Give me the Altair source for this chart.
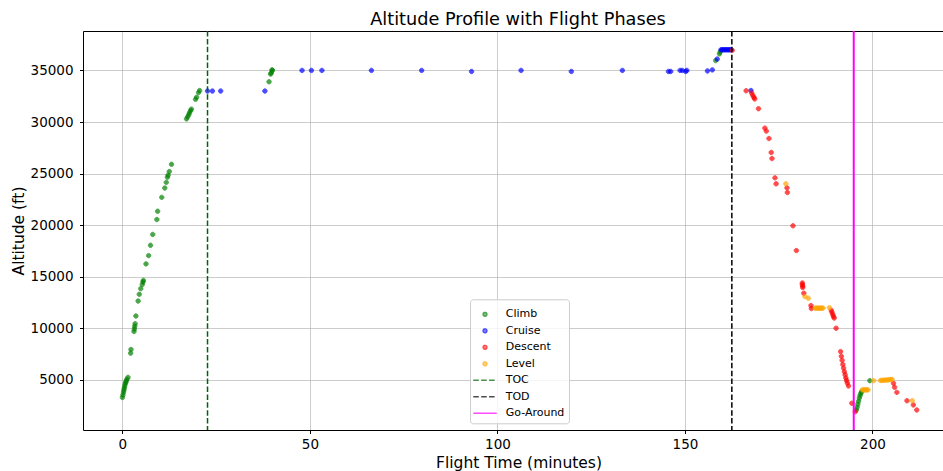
import altair as alt
import pandas as pd

# ---------------- data ----------------
climb_t = [0.0, 0.15, 0.3, 0.4, 0.5, 0.6, 0.75, 0.9, 1.0, 1.2, 1.5,
           2.2, 2.3, 3.1, 3.2, 3.3, 3.4, 3.6, 4.2, 4.5, 4.9, 5.3, 5.5, 5.6,
           6.3, 7.0, 7.5, 8.1, 9.2, 9.4, 10.5, 11.3, 11.7, 12.0, 12.2, 12.5, 13.1,
           17.1, 17.4, 17.7, 17.9, 18.2, 18.4, 19.5, 19.8, 20.3, 20.6,
           39.1, 39.5, 39.7, 39.9, 40.0,
           158.2, 159.2, 159.4,
           195.7, 195.9, 196.1, 196.3, 196.5, 196.7, 196.9, 197.1, 199.3]
climb_alt = [3300, 3550, 3800, 4000, 4200, 4400, 4600, 4750, 4900, 5050, 5250,
             7600, 7950, 9700, 9950, 10200, 10450, 11200, 12650, 13300, 13850, 14250, 14500, 14650,
             16250, 17050, 18050, 19100, 20550, 21350, 22700, 23600, 24150, 24650, 24850, 25200, 25900,
             30300, 30500, 30700, 30900, 31100, 31250, 32200, 32400, 32850, 33050,
             33900, 34650, 34750, 35050, 35000,
             35950, 36600, 36800,
             2100, 2350, 2650, 2950, 3250, 3500, 3700, 3870, 4930]

cruise_t = [22.7, 24.0, 26.2, 38.0,
            47.9, 50.4, 53.2, 66.4, 79.8, 93.1, 106.3, 119.7, 133.3, 145.6, 146.2,
            148.7, 149.3, 150.2, 150.5,
            156.0, 157.3, 158.6,
            159.6, 159.9, 160.2, 160.5, 160.8, 161.1, 161.4, 161.7, 162.0, 162.3,
            167.6]
cruise_alt = [33000, 33000, 33000, 33000,
              35000, 35000, 35000, 35000, 35000, 34900, 35000, 34900, 35000, 34900, 34900,
              35000, 35000, 34900, 35000,
              34950, 35050, 36100,
              37000, 37000, 37000, 37000, 37000, 37000, 37000, 37000, 37000, 37000,
              33050]

descent_t = [162.6, 166.3, 167.8, 168.1, 168.4, 168.6, 169.6,
             171.3, 171.7, 172.4, 173.0, 173.2,
             174.0, 174.3, 177.2, 177.3, 178.8, 179.7,
             181.3, 181.3, 181.4, 181.4, 181.7,
             183.6, 183.7,
             189.0, 189.2, 189.4, 189.6, 189.8, 190.3,
             191.5, 191.7, 191.9, 192.1, 192.3, 192.5, 192.7, 192.9, 193.1, 193.3, 193.6,
             194.5, 195.4,
             205.6, 205.9, 206.5, 209.2, 210.9, 211.8]
descent_alt = [36950, 33030, 32800, 32570, 32380, 32230, 31290,
               29410, 29120, 28400, 27050, 26460,
               24590, 24010, 23620, 23170, 19940, 17540,
               14400, 14250, 14100, 13950, 13400,
               12210, 11920,
               11750, 11550, 11350, 11150, 11000, 10010,
               7750, 7300, 6900, 6500, 6150, 5800, 5500, 5200, 4950, 4700, 4420,
               2740, 1930,
               4680, 4290, 3800, 2990, 2580, 2090]

level_t = [176.9, 182.0, 182.9,
           184.7, 185.0, 185.3, 185.6, 185.9, 186.2, 186.5, 186.8, 188.5,
           197.3, 197.6, 197.9, 198.2, 198.5, 198.8,
           200.3, 202.1, 202.5, 202.9, 203.3, 203.7, 204.1, 204.5, 204.9, 205.2,
           210.6]
level_alt = [24010, 13080, 12920,
             11960, 11960, 11960, 11960, 11960, 11960, 11960, 11960, 12010,
             4040, 4040, 4040, 4040, 4040, 4040,
             4930, 4950, 4960, 4970, 4980, 4990, 5000, 5020, 5040, 5050,
             2990]

event_names = ["TOC", "TOD", "Go-Around"]
event_t = [22.7, 162.5, 195.0]

legend_labels = ["Climb", "Cruise", "Descent", "Level", "TOC", "TOD", "Go-Around"]
legend_colors = ["green", "blue", "red", "orange", "darkgreen", "black", "magenta"]

# ---------------- tables ----------------
pts = pd.concat([
    pd.DataFrame({"t": climb_t, "alt": climb_alt, "phase": "Climb"}),
    pd.DataFrame({"t": cruise_t, "alt": cruise_alt, "phase": "Cruise"}),
    pd.DataFrame({"t": descent_t, "alt": descent_alt, "phase": "Descent"}),
    pd.DataFrame({"t": level_t, "alt": level_alt, "phase": "Level"}),
], ignore_index=True)
events = pd.DataFrame({"t": event_t, "phase": event_names})

FONT = "DejaVu Sans"
circle_path = "M0.2,0A0.2,0.2,0,1,1,-0.2,0A0.2,0.2,0,1,1,0.2,0Z"
line_path = "M-1.24,0L1.24,0"

xscale = alt.Scale(domain=[-10.5, 218.8], nice=False, zero=False)
yscale = alt.Scale(domain=[150, 38820], nice=False, zero=False)

color_scale = alt.Scale(domain=legend_labels, range=legend_colors)
shape_scale = alt.Scale(domain=legend_labels,
                        range=[circle_path] * 4 + [line_path] * 3)
dash_scale = alt.Scale(domain=legend_labels,
                       range=[[1, 0]] * 4 + [[5.5, 2.4], [5.5, 2.4], [1, 0]])

legend = alt.Legend(
    title=None, orient="none", legendX=387, legendY=268.3,
    padding=4.5, rowPadding=0.5, labelOffset=10.2,
    labelFont=FONT, labelFontSize=11, labelColor="black",
    symbolSize=357, symbolStrokeWidth=1.5,
    strokeColor="#cccccc", fillColor="rgba(255,255,255,0.8)", cornerRadius=3,
)

xaxis = alt.Axis(values=[0, 50, 100, 150, 200], format="d",
                 title="Flight Time (minutes)", titleX=435.5, labelPadding=4)
yaxis = alt.Axis(values=[5000, 10000, 15000, 20000, 25000, 30000, 35000],
                 format="d", title="Altitude (ft)", labelPadding=6.5)

points = alt.Chart(pts).mark_point(filled=True, opacity=0.7, size=484,
                                   strokeWidth=1).encode(
    x=alt.X("t:Q", scale=xscale, axis=xaxis),
    y=alt.Y("alt:Q", scale=yscale, axis=yaxis),
    fill=alt.Fill("phase:N", scale=color_scale, legend=legend),
    stroke=alt.Stroke("phase:N", scale=color_scale, legend=legend),
    shape=alt.Shape("phase:N", scale=shape_scale, legend=legend),
)

top_axis = alt.Axis(orient="top", labels=False, ticks=False, grid=False,
                    domain=True, title=None)

dashed = alt.Chart(events).transform_filter(
    alt.datum.phase != "Go-Around"
).mark_rule(strokeWidth=1.5).encode(
    x=alt.X("t:Q", scale=xscale, axis=top_axis),
    stroke=alt.Stroke("phase:N", scale=color_scale, legend=legend),
    strokeDash=alt.StrokeDash("phase:N", scale=dash_scale, legend=legend),
)

goaround = alt.Chart(events).transform_filter(
    alt.datum.phase == "Go-Around"
).mark_rule(strokeWidth=2).encode(
    x=alt.X("t:Q", scale=xscale, axis=None),
    stroke=alt.Stroke("phase:N", scale=color_scale, legend=legend),
    strokeDash=alt.StrokeDash("phase:N", scale=dash_scale, legend=legend),
)

chart = alt.layer(points, dashed, goaround).resolve_axis(
    x="independent"
).properties(
    width=860, height=399,
    title=alt.TitleParams("Altitude Profile with Flight Phases", font=FONT,
                          fontSize=17.7, fontWeight="normal", color="black",
                          anchor="middle", dx=5, offset=1.5),
    padding={"left": 83, "top": 31, "right": 0, "bottom": 41},
    autosize=alt.AutoSizeParams(type="none"),
    background="white",
).configure_view(stroke=None).configure_axis(
    labelFont=FONT, labelFontSize=13.5, labelColor="black",
    titleFont=FONT, titleFontSize=15.5, titleFontWeight="normal", titleColor="black",
    domainColor="black", domainWidth=1, tickColor="black", tickSize=3.5, tickWidth=1,
    titlePadding=4,
    gridColor="#b0b0b0", gridOpacity=0.65, gridWidth=1,
)

chart.save("out.html", embed_options={"renderer": "svg", "actions": False})
